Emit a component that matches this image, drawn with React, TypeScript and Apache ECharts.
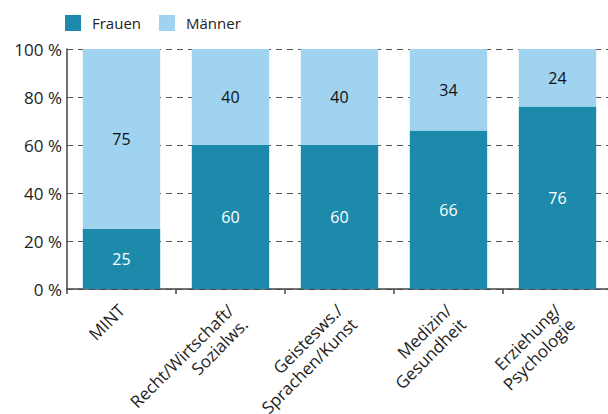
import React, { useEffect, useRef } from "react";
import * as echarts from "echarts";

const categories = [
  "MINT",
  "Recht/Wirtschaft/\nSozialws.",
  "Geistesws./\nSprachen/Kunst",
  "Medizin/\nGesundheit",
  "Erziehung/\nPsychologie",
];
const frauen = [25, 60, 60, 66, 76];
const maenner = [75, 40, 40, 34, 24];
const yTicks = [0, 20, 40, 60, 80, 100];

const FONT = "'Open Sans', sans-serif";

export default function App() {
  const ref = useRef<HTMLDivElement>(null);
  useEffect(() => {
    if (!ref.current) return;
    const chart = echarts.init(ref.current, undefined, { renderer: "svg" });
    chart.setOption({
      animation: false,
      textStyle: { fontFamily: FONT },
      legend: {
        left: 65,
        top: 15,
        padding: 0,
        itemWidth: 16,
        itemHeight: 16,
        itemGap: 18,
        icon: "rect",
        textStyle: { fontFamily: FONT, fontSize: 15, color: "#222", padding: [0, 0, 0, 6] },
        data: ["Frauen", "Männer"],
      },
      grid: {
        left: 67,
        right: -4,
        top: 49,
        bottom: 125,
        containLabel: false,
        outerBoundsMode: "none",
      },
      xAxis: {
        type: "category",
        data: categories,
        axisLine: { lineStyle: { color: "#444", width: 1.5 } },
        axisTick: { show: true, length: 5, lineStyle: { color: "#444", width: 1.5 } },
        axisLabel: {
          rotate: 45,
          margin: 4,
          verticalAlign: "top",
          padding: [0, 10, 0, 0],
          fontFamily: FONT,
          fontSize: 17,
          lineHeight: 20,
          color: "#222",
          interval: 0,
        },
      },
      yAxis: {
        type: "value",
        min: 0,
        max: 100,
        interval: 20,
        axisLine: { show: true, lineStyle: { color: "#444", width: 1.5 } },
        axisTick: { show: false },
        axisLabel: {
          fontFamily: FONT,
          fontSize: 17,
          color: "#222",
          margin: 5,
          formatter: (v: number) => (yTicks.includes(v) ? `${v} %` : ""),
        },
        splitLine: { show: true, lineStyle: { color: "#555", type: [6, 5], width: 1 } },
      },
      series: [
        {
          name: "Frauen",
          type: "bar",
          stack: "total",
          barWidth: "71%",
          data: frauen,
          itemStyle: { color: "#1d8aab" },
          label: { show: true, position: "inside", color: "#fff", fontFamily: FONT, fontSize: 16 },
        },
        {
          name: "Männer",
          type: "bar",
          stack: "total",
          barWidth: "71%",
          data: maenner,
          itemStyle: { color: "#9fd3f0" },
          label: { show: true, position: "inside", color: "#111", fontFamily: FONT, fontSize: 16 },
        },
      ],
    });
    return () => chart.dispose();
  }, []);
  return <div ref={ref} style={{ width: 608, height: 414, position: "absolute", left: 0, top: 0 }} />;
}
